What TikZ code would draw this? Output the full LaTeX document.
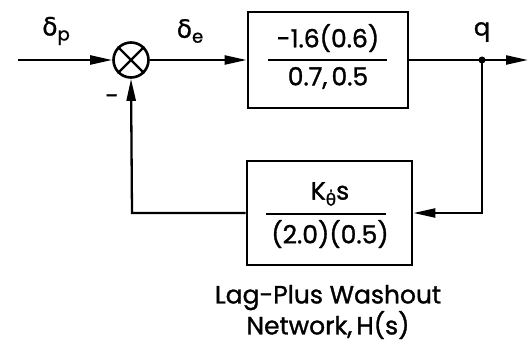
\documentclass[tikz,border=0pt]{standalone}
\usepackage{fontspec}
\setmainfont{Poppins}[FakeBold=1.2]
\newfontfamily\gr{DejaVu Sans}[FakeBold=0.8]
\usetikzlibrary{arrows.meta}
\begin{document}
\begin{tikzpicture}[x=1pt,y=-1pt,
  line/.style={line width=2.3pt},
  arr/.style={line, -{Triangle[length=22pt,width=9pt]}},
  blk/.style={draw,line width=2.8pt,inner sep=0pt},
  boxtxt/.style={font=\fontsize{25}{27}\selectfont,inner sep=0pt},
  lbl/.style={font=\fontsize{24}{26}\selectfont,inner sep=0pt},
  captext/.style={font=\fontsize{25}{31}\selectfont,inner sep=0pt,align=center}]
\useasboundingbox (0,0) rectangle (529,344);
% nodes
\coordinate (in) at (18,60);
\node[draw,circle,line width=2.6pt,minimum size=35pt,inner sep=0pt] (sum) at (131,60) {};
\draw[line] (sum.north west) -- (sum.south east) (sum.north east) -- (sum.south west);
\node[blk,minimum width=160pt,minimum height=96pt] (G) at (328,60) {};
\node[boxtxt] (gnum) at (328,38) {-1.6(0.6)};
\node[boxtxt] (gden) at (328,78) {0.7,\,0.5};
\draw[line] (268,60) -- (387,60);
\node[blk,minimum width=165pt,minimum height=104pt] (H) at (329.5,213) {};
\node[boxtxt] (hnum) at (330,194) {K{\gr\raisebox{-6pt}{\fontsize{17}{17}\selectfont θ̇}}s};
\node[boxtxt] (hden) at (330,234) {(2.0)(0.5)};
\draw[line] (266,214) -- (386,214);
\coordinate (q) at (482,60);
\coordinate (out) at (528,60);
\coordinate (qd) at (482,213);
\coordinate (ld) at (132,213);
\fill (q) circle (3.5pt);
% labels
\node[lbl] (dp) at (56,31) {{\gr\fontsize{25}{26}\selectfont δ}\raisebox{-5pt}{\fontsize{18}{18}\selectfont p}};
\node[lbl] (de) at (190,31) {{\gr\fontsize{25}{26}\selectfont δ}\raisebox{-5pt}{\fontsize{18}{18}\selectfont e}};
\node[lbl] (ql) at (482,32) {q};
\node[lbl,anchor=base] (minus) at (112,104) {-};
\node[captext] (capt) at (328,312) {Lag-Plus Washout\\Network,\,H(s)};
% connectors
\draw[arr] (in) -- (sum.west);
\draw[arr] (sum.east) -- (G.west);
\draw[line] (G.east) -- (q);
\draw[arr] (q) -- (out);
\draw[arr] (q) -- (qd) -- (H.east);
\draw[arr] (H.west) -- (ld) -- (sum.south);
\end{tikzpicture}
\end{document}
